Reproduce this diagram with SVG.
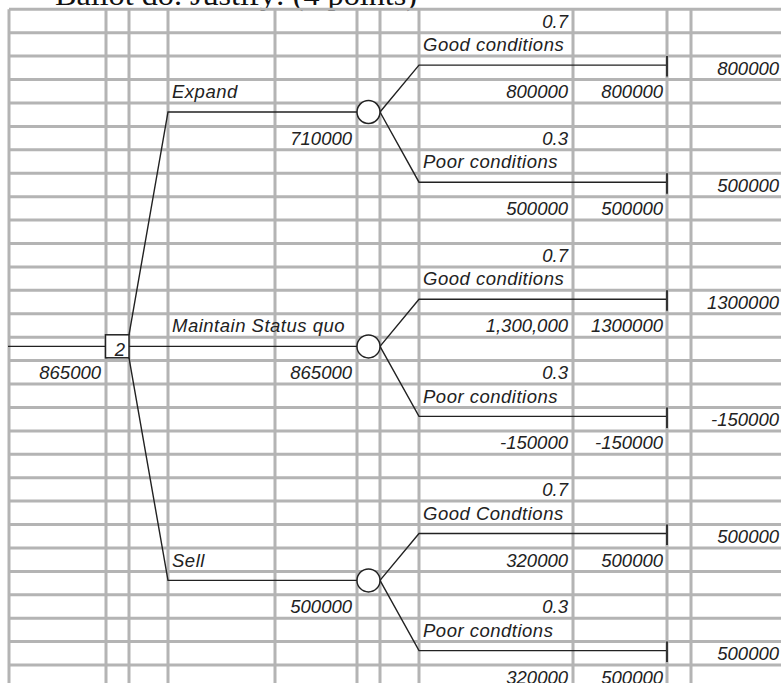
<svg xmlns="http://www.w3.org/2000/svg" width="781" height="683" viewBox="0 0 781 683">
<style>
.g{stroke:#b4b4b4;stroke-width:3;fill:none}
.t{font-family:"Liberation Sans",Arial,sans-serif;font-style:italic;font-size:18.5px;fill:#222}
.w{letter-spacing:0.5px}
.e{text-anchor:end}
.c{stroke:#222;stroke-width:1.4;fill:none}
.n{stroke:#222;stroke-width:1.5;fill:#fff}
.k{stroke:#333;stroke-width:2;fill:none}
</style>
<rect width="781" height="683" fill="#fff"/>
<text x="55" y="5" font-family="'Liberation Serif','Times New Roman',serif" font-size="30" fill="#111" textLength="362" lengthAdjust="spacingAndGlyphs">Ballot do. Justify: (4 points)</text>
<g id="grid" class="g">
<path d="M9 9.3V683M106 9.3V683M129 9.3V683M168 9.3V683M275 9.3V683M357 9.3V683M380 9.3V683M419 9.3V683M573 9.3V683M667 9.3V683M691 9.3V683"/>
<path d="M9 9.3H781M9 32.7H781M9 56.1H781M9 79.6H781M9 103H781M9 126.4H781M9 149.8H781M9 173.2H781M9 196.7H781M9 220.1H781M9 243.5H781M9 266.9H781M9 290.3H781M9 313.8H781M9 337.2H781M9 360.6H781M9 384H781M9 407.4H781M9 430.9H781M9 454.3H781M9 477.7H781M9 501.1H781M9 524.5H781M9 548H781M9 571.4H781M9 594.8H781M9 618.2H781M9 641.6H781M9 665.1H781"/>
</g>
<g id="connectors">
<path class="c" d="M8 346.4H105.5"/>
<path class="c" d="M129 346.4H357"/>
<path class="c" d="M129 334.8L168 112H357"/>
<path class="c" d="M129 357.8L168 580.4H357"/>
<path class="c" d="M380 112L419 65.1H667M380 112L419 182.2H667"/>
<path class="c" d="M380 346.4L419 299.3H667M380 346.4L419 416.4H667"/>
<path class="c" d="M380 580.4L419 533.5H667M380 580.4L419 650.6H667"/>
</g>
<g id="decision">
<rect class="n" x="105.5" y="334.8" width="23.5" height="23"/>
<text class="t e" x="125" y="355.7">2</text>
<text class="t e" x="101" y="379.1">865000</text>
</g>
<g id="chance-expand">
<circle class="n" cx="368.5" cy="112" r="11.5"/>
<text class="t w" x="172" y="98.1">Expand</text>
<text class="t e" x="352" y="144.9">710000</text>
</g>
<g id="chance-maintain">
<circle class="n" cx="368.5" cy="346.4" r="11.5"/>
<text class="t w" x="172" y="332.3">Maintain Status quo</text>
<text class="t e" x="352" y="379.1">865000</text>
</g>
<g id="chance-sell">
<circle class="n" cx="368.5" cy="580.4" r="11.5"/>
<text class="t w" x="172" y="566.5">Sell</text>
<text class="t e" x="352" y="613.3">500000</text>
</g>
<g id="end-expand-good">
<path class="k" d="M667 56.1V76.6"/>
<text class="t e" x="568" y="27.8">0.7</text>
<text class="t w" x="423" y="51.2">Good conditions</text>
<text class="t e" x="779" y="74.6">800000</text>
<text class="t e" x="568" y="98.1">800000</text>
<text class="t e" x="663" y="98.1">800000</text>
</g>
<g id="end-expand-poor">
<path class="k" d="M667 173.2V193.7"/>
<text class="t e" x="568" y="144.9">0.3</text>
<text class="t w" x="423" y="168.3">Poor conditions</text>
<text class="t e" x="779" y="191.7">500000</text>
<text class="t e" x="568" y="215.2">500000</text>
<text class="t e" x="663" y="215.2">500000</text>
</g>
<g id="end-maintain-good">
<path class="k" d="M667 290.3V310.8"/>
<text class="t e" x="568" y="262">0.7</text>
<text class="t w" x="423" y="285.4">Good conditions</text>
<text class="t e" x="779" y="308.8">1300000</text>
<text class="t e" x="568" y="332.3">1,300,000</text>
<text class="t e" x="663" y="332.3">1300000</text>
</g>
<g id="end-maintain-poor">
<path class="k" d="M667 407.4V427.9"/>
<text class="t e" x="568" y="379.1">0.3</text>
<text class="t w" x="423" y="402.5">Poor conditions</text>
<text class="t e" x="779" y="425.9">-150000</text>
<text class="t e" x="568" y="449.4">-150000</text>
<text class="t e" x="663" y="449.4">-150000</text>
</g>
<g id="end-sell-good">
<path class="k" d="M667 524.5V545"/>
<text class="t e" x="568" y="496.2">0.7</text>
<text class="t w" x="423" y="519.6">Good Condtions</text>
<text class="t e" x="779" y="543">500000</text>
<text class="t e" x="568" y="566.5">320000</text>
<text class="t e" x="663" y="566.5">500000</text>
</g>
<g id="end-sell-poor">
<path class="k" d="M667 641.6V662.1"/>
<text class="t e" x="568" y="613.3">0.3</text>
<text class="t w" x="423" y="636.7">Poor condtions</text>
<text class="t e" x="779" y="660.1">500000</text>
<text class="t e" x="568" y="683.6">320000</text>
<text class="t e" x="663" y="683.6">500000</text>
</g>
</svg>
